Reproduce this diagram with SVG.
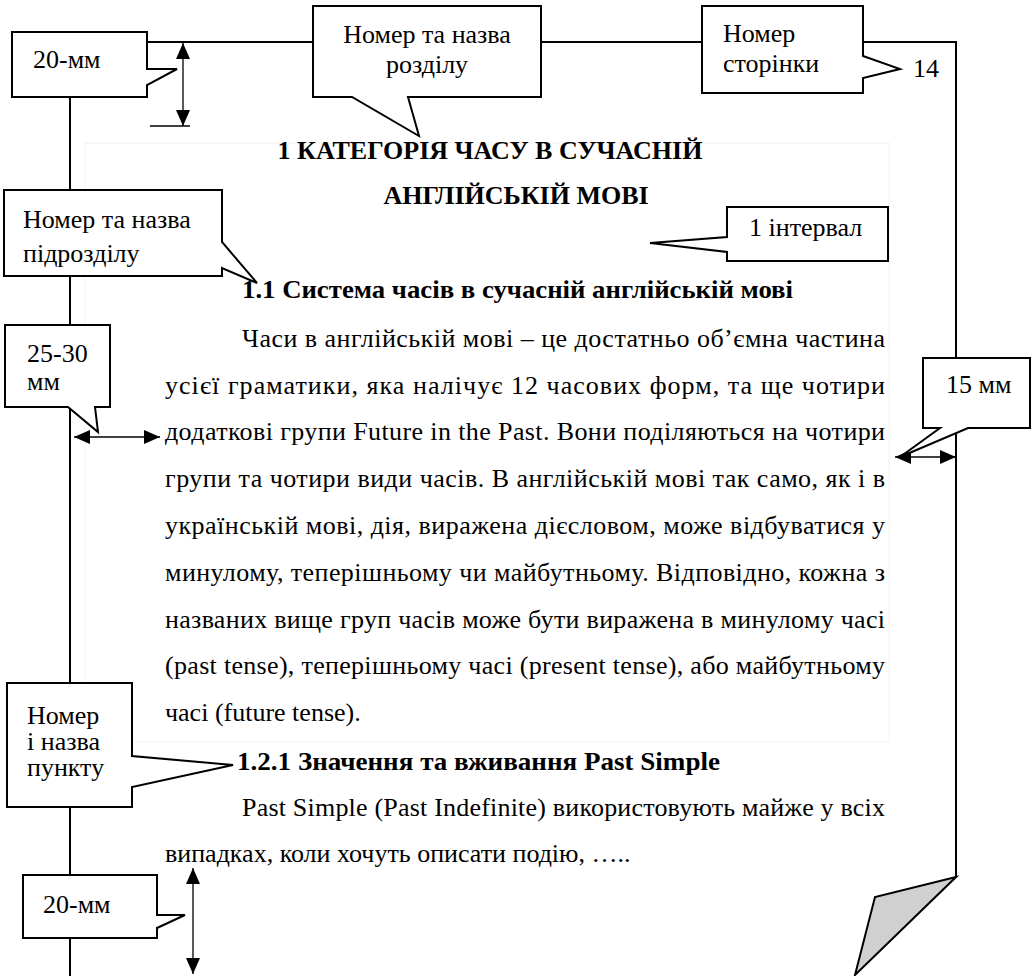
<svg xmlns="http://www.w3.org/2000/svg" width="1031" height="976" viewBox="0 0 1031 976">
<defs>
<marker id="ah" viewBox="0 0 16 14" refX="16" refY="7" markerWidth="16" markerHeight="14" markerUnits="userSpaceOnUse" orient="auto-start-reverse"><path d="M0,0 L16,7 L0,14 z" fill="#000"/></marker>
<style>
.page{fill:none;stroke:#000;stroke-width:2}
.arr{fill:none;stroke:#000;stroke-width:1.3;marker-start:url(#ah);marker-end:url(#ah)}
.co{fill:#fff;stroke:#000;stroke-width:2;stroke-linejoin:miter}
.t{font-family:"Liberation Serif","Times New Roman",serif;font-size:26px;fill:#000}
.b{font-weight:bold}
.frame{fill:none;stroke:#f2f2f2;stroke-width:1}
</style>
</defs>
<rect width="1031" height="976" fill="#fff"/>
<rect class="frame" x="85" y="143" width="804" height="599"/>
<g id="connectors">
<path class="page" d="M70,976 V42 H956 V877"/>
<polygon points="956,877 875,897 855,975" fill="#d0d0d0" stroke="#000" stroke-width="2" stroke-linejoin="miter"/>
<line class="arr" x1="183" y1="43" x2="183" y2="126"/>
<line x1="150" y1="126" x2="190" y2="126" stroke="#000" stroke-width="1.5"/>
<line class="arr" x1="74" y1="437" x2="160" y2="437"/>
<line class="arr" x1="895" y1="457" x2="956" y2="457"/>
<line class="arr" x1="193" y1="868" x2="193" y2="974"/>
</g>
<g id="top-margin">
<path class="co" d="M12,32 H147 V69 L177,69 L147,85 V97 H12 Z"/>
<text class="t" x="33" y="68">20-мм</text>
</g>
<g id="chapter-title-callout">
<path class="co" d="M313,6 H541 V97 H408 L419,136 L352,97 H313 Z"/>
<text class="t" x="427" y="43" text-anchor="middle">Номер та назва</text>
<text class="t" x="427" y="73" text-anchor="middle">розділу</text>
</g>
<g id="page-number-callout">
<path class="co" d="M702,6 H863 V56 L900,69 L863,78 V93 H702 Z"/>
<text class="t" x="723" y="42">Номер</text>
<text class="t" x="723" y="72">сторінки</text>
<text class="t" x="913" y="77">14</text>
</g>
<g id="subsection-callout">
<path class="co" d="M4,190 H222 V242 L257,283 L222,268 V276 H4 Z"/>
<text class="t" x="23" y="228">Номер та назва</text>
<text class="t" x="23" y="262">підрозділу</text>
</g>
<g id="interval-callout">
<path class="co" d="M727,207 H888 V261 H727 V252 L650,243 L727,237 Z"/>
<text class="t" x="749" y="236">1 інтервал</text>
</g>
<g id="left-margin-callout">
<path class="co" d="M5,325 H110 V407 H95 L98,432 L68,407 H5 Z"/>
<text class="t" x="27" y="362">25-30</text>
<text class="t" x="27" y="390" font-size="22">мм</text>
</g>
<g id="right-margin-callout">
<path class="co" d="M923,358 H1030 V428 H968 L900,457 L940,428 H923 Z"/>
<text class="t" x="946" y="393">15 мм</text>
</g>
<g id="item-callout">
<path class="co" d="M7,683 H132 V756 L233,765 L132,787 V807 H7 Z"/>
<text class="t" x="27" y="724" font-size="25">Номер</text>
<text class="t" x="27" y="750" font-size="25">і назва</text>
<text class="t" x="27" y="776" font-size="25">пункту</text>
</g>
<g id="bottom-margin">
<path class="co" d="M23,875 H157 V915 L185,915 L157,928 V938 H23 Z"/>
<text class="t" x="43" y="913">20-мм</text>
</g>
<g id="page-text">
<text class="t b" x="490" y="159" text-anchor="middle">1 КАТЕГОРІЯ ЧАСУ В СУЧАСНІЙ</text>
<text class="t b" x="516" y="204" text-anchor="middle">АНГЛІЙСЬКІЙ МОВІ</text>
<text class="t b" x="242" y="298" textLength="551" lengthAdjust="spacingAndGlyphs">1.1 Система часів в сучасній англійській мові</text>
<text class="t" x="242" y="347" textLength="643" lengthAdjust="spacing">Часи в англійській мові – це достатньо об’ємна частина</text>
<text class="t" x="165" y="394" textLength="720" lengthAdjust="spacing">усієї граматики, яка налічує 12 часових форм, та ще чотири</text>
<text class="t" x="165" y="440" textLength="720" lengthAdjust="spacing">додаткові групи Future in the Past. Вони поділяються на чотири</text>
<text class="t" x="165" y="487" textLength="720" lengthAdjust="spacing">групи та чотири види часів. В англійській мові так само, як і в</text>
<text class="t" x="165" y="534" textLength="720" lengthAdjust="spacing">українській мові, дія, виражена дієсловом, може відбуватися у</text>
<text class="t" x="165" y="581" textLength="720" lengthAdjust="spacing">минулому, теперішньому чи майбутньому. Відповідно, кожна з</text>
<text class="t" x="165" y="628" textLength="720" lengthAdjust="spacing">названих вище груп часів може бути виражена в минулому часі</text>
<text class="t" x="165" y="674" textLength="720" lengthAdjust="spacing">(past tense), теперішньому часі (present tense), або майбутньому</text>
<text class="t" x="165" y="721">часі (future tense).</text>
<text class="t b" x="237" y="770" textLength="483" lengthAdjust="spacingAndGlyphs">1.2.1 Значення та вживання Past Simple</text>
<text class="t" x="242" y="816" textLength="643" lengthAdjust="spacing">Past Simple (Past Indefinite) використовують майже у всіх</text>
<text class="t" x="165" y="862">випадках, коли хочуть описати подію, …..</text>
</g>
</svg>
